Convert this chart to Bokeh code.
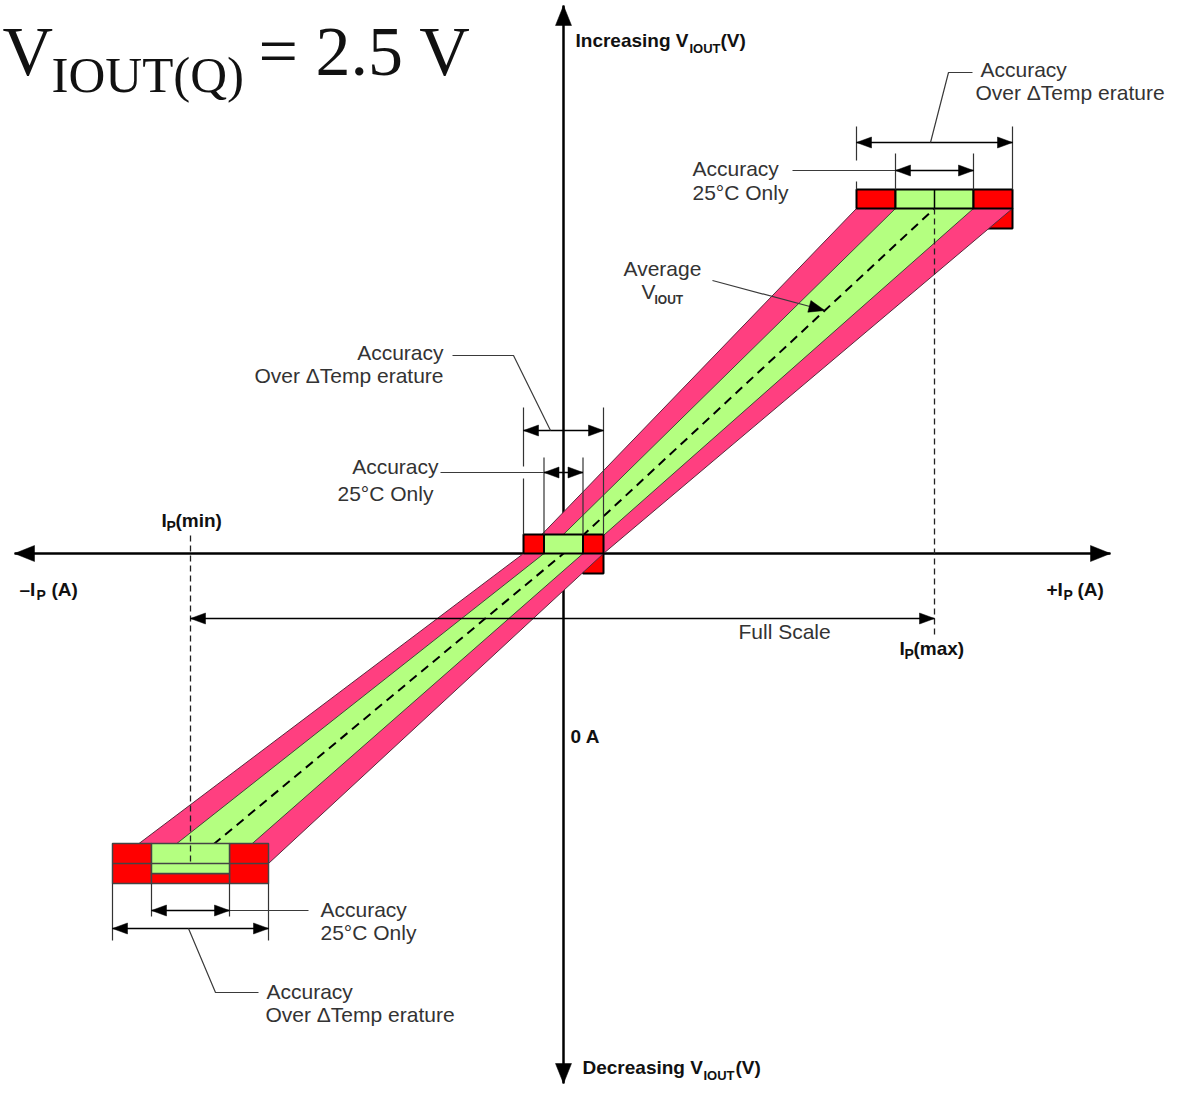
from bokeh.plotting import figure
from bokeh.models import Range1d, ColumnDataSource
from bokeh.core.properties import value
from bokeh.embed import file_html
from bokeh.resources import INLINE

# ---------------- data (diagram units, 0 A / quiescent VIOUT at the axis crossing) ----------------
current_labels = ["Ip(min)", "0 A", "Ip(max)"]
current_points = [-373, 0, 371]          # primary current positions
vout_points = [-310, 0, 345]             # average VIOUT at those currents
acc_25c_halfwidth = [39, 19.5, 39]       # ± accuracy, 25°C only
acc_temp_halfwidth = [78, 40, 78]        # ± accuracy over ΔTemperature

PINK = "#FF3F80"
GREEN = "#B4FF80"
RED = "#FF0000"
TXT = "#333333"
BLK = "#111111"

W, H = 1168, 1084
OX, OY = 563, 553  # screen position of the axis crossing


def X(px):
    return px - OX


def Y(py):
    return OY - py


p = figure(width=W, height=H, x_range=Range1d(X(0), X(W)), y_range=Range1d(Y(H), Y(0)),
           output_backend="svg", toolbar_location=None, x_axis_location=None, y_axis_location=None,
           min_border=0, background_fill_color="white", border_fill_color="white")
p.outline_line_color = None
p.grid.visible = False

ip_min, ip0, ip_max = current_points
v_min, v0, v_max = vout_points
a25 = acc_25c_halfwidth
atp = acc_temp_halfwidth
BH = 19

heads_x, heads_y = [], []


def add_head(tip, frm, L=15, hw=5.5):
    tx, ty = tip
    dx, dy = tx - frm[0], ty - frm[1]
    n = (dx * dx + dy * dy) ** 0.5
    dx, dy = dx / n, dy / n
    bx, by = tx - dx * L, ty - dy * L
    nx, ny = -dy, dx
    heads_x.append([tx, bx + nx * hw, bx - nx * hw])
    heads_y.append([ty, by + ny * hw, by - ny * hw])


def dim(x1, x2, y, L=15, hw=5.5):
    add_head((x1, y), (x2, y), L, hw)
    add_head((x2, y), (x1, y), L, hw)
    return [x1, x2], [y, y]


# ---------------- axes ----------------
ax_xs = [[X(14), X(1110)], [ip0, ip0]]
ax_ys = [[v0, v0], [Y(5), Y(1083)]]
p.multi_line(xs=ax_xs, ys=ax_ys, line_color="black", line_width=2.5)
add_head((X(14), v0), (X(1110), v0), 20, 8)
add_head((X(1110), v0), (X(14), v0), 20, 8)
add_head((ip0, Y(5)), (ip0, Y(1083)), 20, 8)
add_head((ip0, Y(1083)), (ip0, Y(5)), 20, 8)

# ---------------- red tabs under the band ----------------
p.quad(left=[ip_max + a25[2], ip0 + a25[1]], right=[ip_max + atp[2], ip0 + atp[1]],
       bottom=[v_max - 20, v0 - 20], top=[v_max, v0], fill_color=RED, line_color="black", line_width=2)


# ---------------- accuracy bands ----------------
def band(h):
    xs = [ip_max - h[2], ip_max + h[2], ip0 + h[1], ip_min + h[0], ip_min - h[0], ip0 - h[1]]
    ys = [v_max, v_max, v0, v_min, v_min, v0]
    return xs, ys


bx, by = band(atp)
p.patch(bx, by, fill_color=PINK, line_color="#5a2a3c", line_width=1)
gx, gy = band(a25)
p.patch(gx, gy, fill_color=GREEN, line_color="#3d4d33", line_width=1)
p.line(current_points, vout_points, line_color="black", line_width=2, line_dash="9 6")

# ---------------- accuracy blocks (top and centre) ----------------
L_, R_, B_, T_, C_ = [], [], [], [], []
for i in (2, 1):
    c, v = current_points[i], vout_points[i]
    for (l, r, col) in [(c - atp[i], c - a25[i], RED), (c - a25[i], c + a25[i], GREEN),
                        (c + a25[i], c + atp[i], RED)]:
        L_.append(l); R_.append(r); B_.append(v); T_.append(v + BH); C_.append(col)
p.quad(left="l", right="r", bottom="b", top="t", fill_color="c", line_color="black", line_width=2,
       source=ColumnDataSource(dict(l=L_, r=R_, b=B_, t=T_, c=C_)))
p.line([ip_max, ip_max], [v_max, v_max + BH], line_color="black", line_width=1.5)

# ---------------- bottom block ----------------
c = ip_min
bl = [c - atp[0], c + a25[0], c - a25[0], c - a25[0]]
br = [c - a25[0], c + atp[0], c + a25[0], c + a25[0]]
bb = [v_min - 20, v_min - 20, v_min - 20, v_min - 10]
bt = [v_min + 20, v_min + 20, v_min - 10, v_min + 20]
bc = [RED, RED, RED, GREEN]
p.quad(left="l", right="r", bottom="b", top="t", fill_color="c", line_color="#444444", line_width=1.5,
       source=ColumnDataSource(dict(l=bl, r=br, b=bb, t=bt, c=bc)))
p.line([c - atp[0], c + atp[0]], [v_min, v_min], line_color="#444444", line_width=1.5)

# ---------------- Ip(min)/Ip(max) dashed verticals ----------------
p.multi_line(xs=[[ip_max, ip_max], [ip_min, ip_min]], ys=[[v_max, Y(635)], [Y(535), v_min]],
             line_color="#222222", line_width=1.3, line_dash="6 4")

# ---------------- extension lines ----------------
ext_x, ext_y = [], []
top_blk = v_max + BH
cm = ip_max
for xx, y1, y2 in [(cm - atp[2], Y(126), Y(160)), (cm - atp[2], Y(181), top_blk),
                   (cm + atp[2], Y(126), top_blk), (cm - a25[2], Y(153), top_blk),
                   (cm + a25[2], Y(153), top_blk)]:
    ext_x.append([xx, xx]); ext_y.append([y1, y2])
ctr_blk = v0 + BH
for xx, y1, y2 in [(ip0 - atp[1], Y(407), Y(466)), (ip0 - atp[1], Y(478), ctr_blk),
                   (ip0 + atp[1], Y(407), ctr_blk), (ip0 - a25[1], Y(457), ctr_blk),
                   (ip0 + a25[1], Y(457), ctr_blk)]:
    ext_x.append([xx, xx]); ext_y.append([y1, y2])
bot_blk = v_min - 20
for xx, y2 in [(ip_min - atp[0], Y(940)), (ip_min + atp[0], Y(940)),
               (ip_min - a25[0], Y(916)), (ip_min + a25[0], Y(916))]:
    ext_x.append([xx, xx]); ext_y.append([bot_blk, y2])
p.multi_line(xs=ext_x, ys=ext_y, line_color="#333333", line_width=1.2)

# ---------------- dimension arrows ----------------
dx_, dy_ = [], []
for seg in [dim(ip_max - atp[2], ip_max + atp[2], Y(142)), dim(ip_max - a25[2], ip_max + a25[2], Y(170)),
            dim(ip0 - atp[1], ip0 + atp[1], Y(430)), dim(ip0 - a25[1], ip0 + a25[1], Y(472)),
            dim(ip_min - a25[0], ip_min + a25[0], Y(910)), dim(ip_min - atp[0], ip_min + atp[0], Y(928)),
            dim(ip_min, ip_max, Y(618))]:
    dx_.append(seg[0]); dy_.append(seg[1])
p.multi_line(xs=dx_, ys=dy_, line_color="black", line_width=1.5)

# ---------------- leader lines ----------------
tip_v = Y(310)
tip_i = ip_max * tip_v / v_max
lead_x = [[X(792), ip_max - a25[2]],
          [X(972), X(948), X(930)],
          [X(440), ip0 - a25[1]],
          [X(452), X(513), X(550)],
          [ip_min + a25[0], X(308)],
          [X(188), X(215), X(258)],
          [X(712), tip_i]]
lead_y = [[Y(170), Y(170)],
          [Y(72), Y(72), Y(142)],
          [Y(472), Y(472)],
          [Y(355), Y(355), Y(430)],
          [Y(910), Y(910)],
          [Y(928), Y(992), Y(992)],
          [Y(280), tip_v]]
p.multi_line(xs=lead_x, ys=lead_y, line_color="#3a3a3a", line_width=1.2)
add_head((tip_i, tip_v), (X(712), Y(280)), 16, 6)

p.patches(xs=heads_x, ys=heads_y, fill_color="black", line_color="black", line_width=0.5)


# ---------------- texts ----------------
def T(s, x, y, size, bold=False, align="left", font="Liberation Sans", color=TXT):
    yb = y - 0.37 * size  # baseline correction for the svg renderer
    p.text(x=[X(x)], y=[Y(yb)], text=[s], text_font=value(font), text_font_size=f"{size}px",
           text_font_style="bold" if bold else "normal", text_align=align,
           text_baseline="alphabetic", text_color=color)


# title fragment (serif)
T("V", 2, 77, 70, font="Liberation Serif", color="#111111")
T("IOUT(Q)", 51, 93, 51, font="Liberation Serif", color="#111111")
T("= 2.5 V", 258, 77, 70, font="Liberation Serif", color="#111111")

# axis labels
T("Increasing V", 575, 47, 19, True, color=BLK)
T("IOUT", 689, 53, 13, True, color=BLK)
T("(V)", 720, 47, 19, True, color=BLK)
T("Decreasing V", 582, 1074, 19, True, color=BLK)
T("IOUT", 703, 1080, 13, True, color=BLK)
T("(V)", 735, 1074, 19, True, color=BLK)
T("\u2013I", 19, 596, 19, True, color=BLK)
T("P", 36, 600, 14, True, color=BLK)
T("(A)", 51, 596, 19, True, color=BLK)
T("+I", 1046, 596, 19, True, color=BLK)
T("P", 1063, 600, 14, True, color=BLK)
T("(A)", 1077, 596, 19, True, color=BLK)
T("I", 161, 527, 19, True, color=BLK)
T("P", 166, 531, 14, True, color=BLK)
T("(min)", 175, 527, 19, True, color=BLK)
T("I", 899, 655, 19, True, color=BLK)
T("P", 904, 659, 14, True, color=BLK)
T("(max)", 913, 655, 19, True, color=BLK)
T(current_labels[1], 570, 743, 19, True, color=BLK)

# annotations
T("Accuracy", 980, 77, 21)
T("Over \u0394Temp erature", 975, 100, 21)
T("Accuracy", 692, 176, 21)
T("25\u00b0C Only", 692, 200, 21)
T("Average", 623, 276, 21)
T("V", 641, 299, 21)
T("IOUT", 654, 304, 12, True)
T("Accuracy", 443, 360, 21, align="right")
T("Over \u0394Temp erature", 443, 383, 21, align="right")
T("Accuracy", 438, 474, 21, align="right")
T("25\u00b0C Only", 337, 501, 21)
T("Full Scale", 738, 639, 21)
T("Accuracy", 320, 917, 21)
T("25\u00b0C Only", 320, 940, 21)
T("Accuracy", 266, 999, 21)
T("Over \u0394Temp erature", 265, 1022, 21)

open("out.html", "w").write(file_html(p, INLINE))
